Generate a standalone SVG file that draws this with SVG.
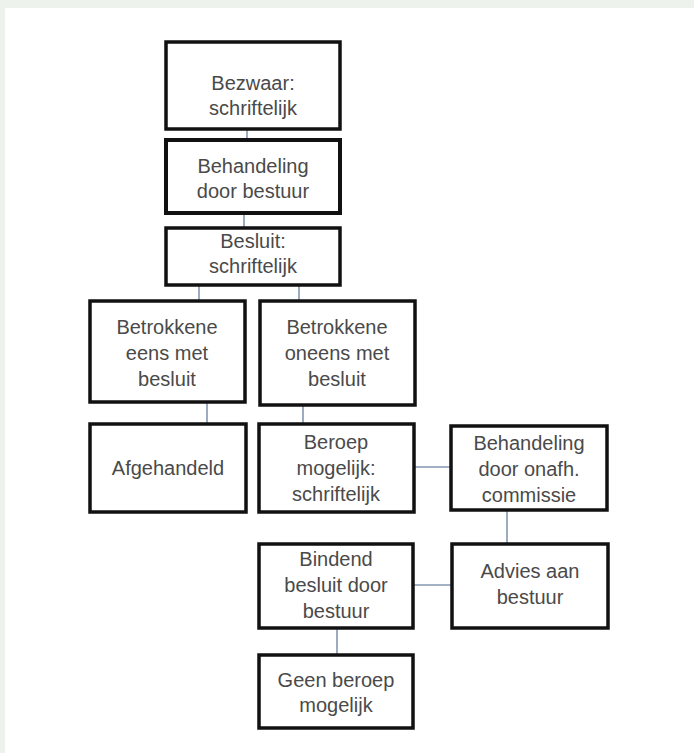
<svg xmlns="http://www.w3.org/2000/svg" width="694" height="753" viewBox="0 0 694 753">
<style>
.box{fill:#fff;stroke:#111;stroke-width:3.5}
.t{font-family:"Liberation Sans",Arial,sans-serif;font-size:20px;fill:#4a4a4a;text-anchor:middle}
.c{stroke:#8597b2;stroke-width:1.6;fill:none}
</style>
<rect x="0" y="0" width="694" height="753" fill="#edf3ec"/>
<rect x="5" y="8" width="689" height="745" fill="#fff"/>
<g id="connectors">
<line class="c" x1="247" y1="129" x2="247" y2="139"/>
<line class="c" x1="244" y1="213" x2="244" y2="227"/>
<line class="c" x1="199" y1="285" x2="199" y2="300"/>
<line class="c" x1="299" y1="285" x2="299" y2="300"/>
<line class="c" x1="207" y1="402" x2="207" y2="423"/>
<line class="c" x1="303" y1="405" x2="303" y2="423"/>
<line class="c" x1="414" y1="467" x2="450" y2="467"/>
<line class="c" x1="507" y1="510" x2="507" y2="543"/>
<line class="c" x1="413" y1="585" x2="451" y2="585"/>
<line class="c" x1="337" y1="628" x2="337" y2="654"/>
</g>
<g id="n1"><rect class="box" x="166" y="42" width="174" height="87"/>
<text class="t" x="253" y="90">Bezwaar:</text><text class="t" x="253" y="115">schriftelijk</text></g>
<g id="n2"><rect class="box" x="166" y="140" width="174" height="73" style="stroke-width:4"/>
<text class="t" x="253" y="173">Behandeling</text><text class="t" x="253" y="198">door bestuur</text></g>
<g id="n3"><rect class="box" x="166" y="228" width="174" height="57"/>
<text class="t" x="253" y="248">Besluit:</text><text class="t" x="253" y="273">schriftelijk</text></g>
<g id="n4"><rect class="box" x="90" y="301" width="155" height="101"/>
<text class="t" x="167" y="334">Betrokkene</text><text class="t" x="167" y="360">eens met</text><text class="t" x="167" y="386">besluit</text></g>
<g id="n5"><rect class="box" x="260" y="301" width="155" height="104"/>
<text class="t" x="337" y="334">Betrokkene</text><text class="t" x="337" y="360">oneens met</text><text class="t" x="337" y="386">besluit</text></g>
<g id="n6"><rect class="box" x="90" y="424" width="156" height="88"/>
<text class="t" x="168" y="475">Afgehandeld</text></g>
<g id="n7"><rect class="box" x="259" y="424" width="155" height="88"/>
<text class="t" x="336" y="449">Beroep</text><text class="t" x="336" y="475">mogelijk:</text><text class="t" x="336" y="501">schriftelijk</text></g>
<g id="n8"><rect class="box" x="451" y="426" width="156" height="84"/>
<text class="t" x="529" y="450">Behandeling</text><text class="t" x="529" y="476">door onafh.</text><text class="t" x="529" y="502">commissie</text></g>
<g id="n9"><rect class="box" x="259" y="544" width="154" height="84"/>
<text class="t" x="336" y="566">Bindend</text><text class="t" x="336" y="592">besluit door</text><text class="t" x="336" y="618">bestuur</text></g>
<g id="n10"><rect class="box" x="452" y="544" width="156" height="84"/>
<text class="t" x="530" y="578">Advies aan</text><text class="t" x="530" y="604">bestuur</text></g>
<g id="n11"><rect class="box" x="259" y="655" width="154" height="73"/>
<text class="t" x="336" y="687">Geen beroep</text><text class="t" x="336" y="712">mogelijk</text></g>
</svg>
